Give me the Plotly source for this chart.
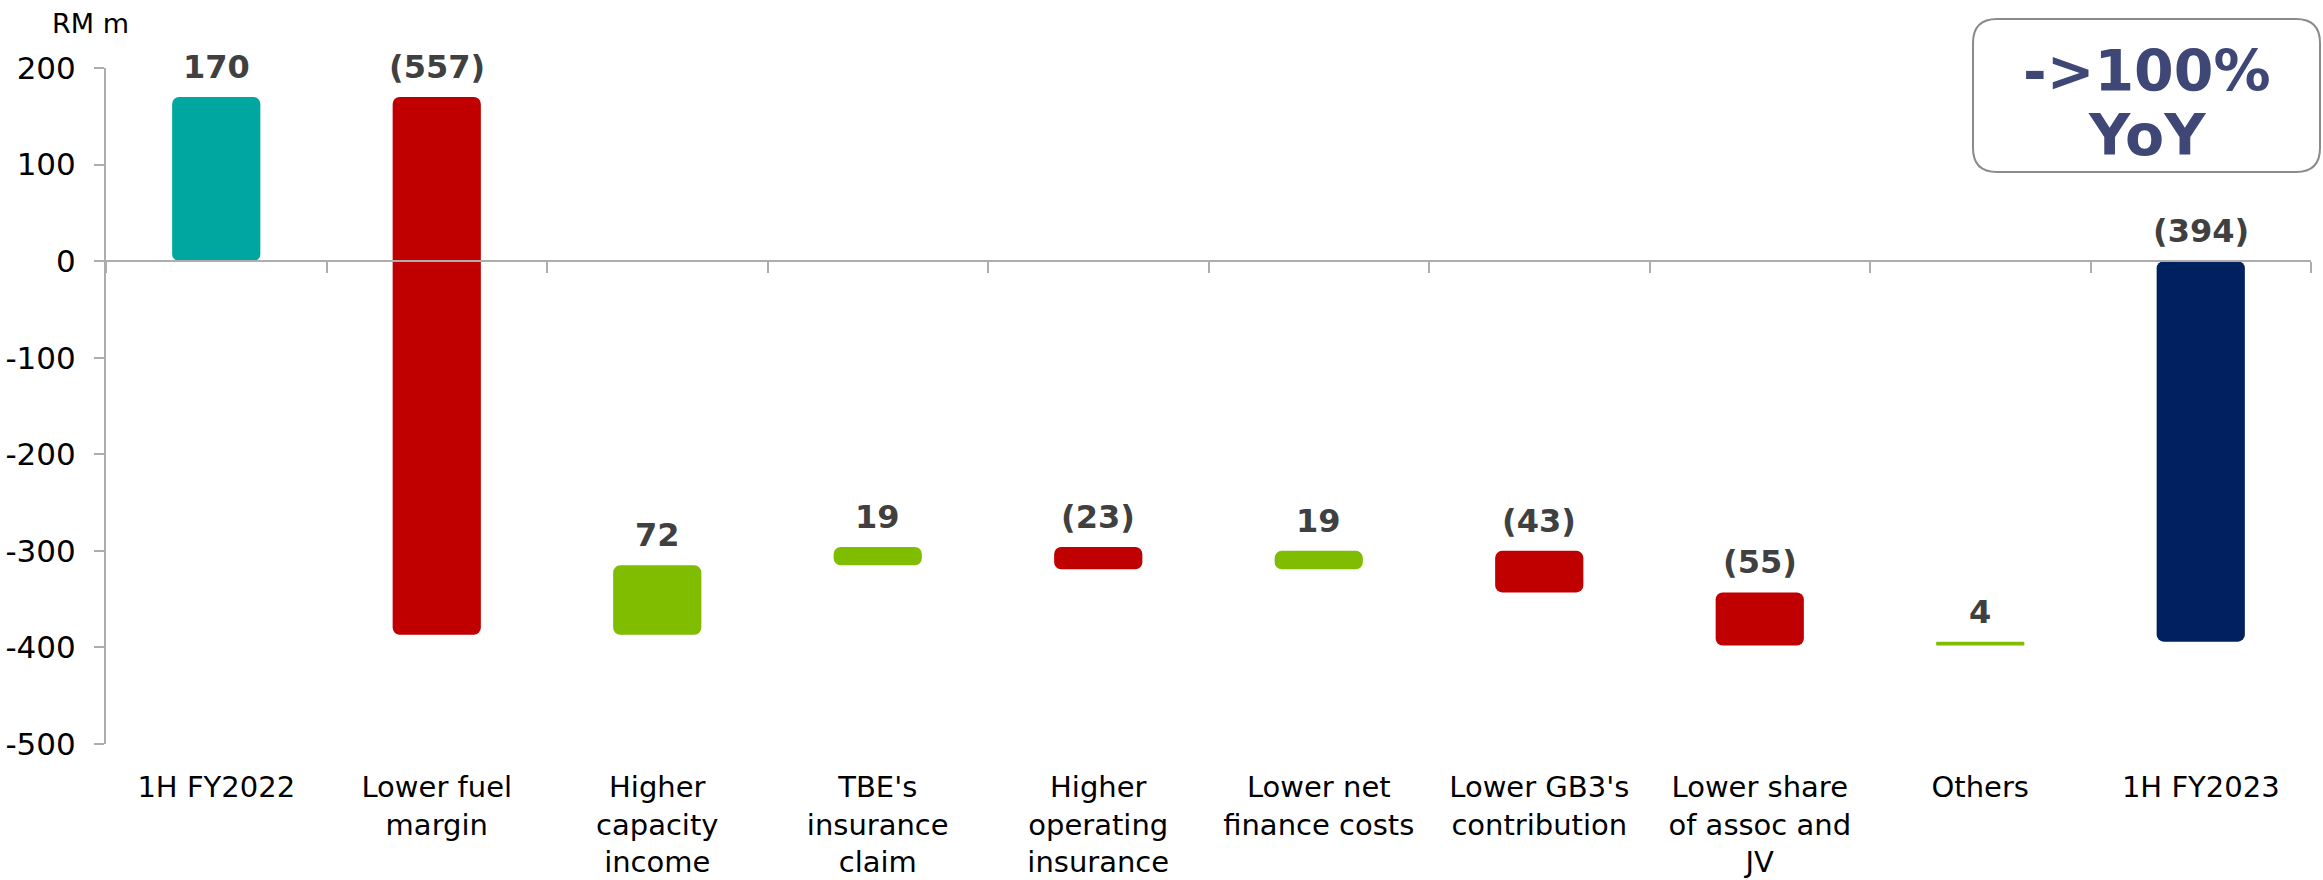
import plotly.graph_objects as go

# ---------------- data ----------------
categories = [
    "1H FY2022",
    "Lower fuel<br>margin",
    "Higher<br>capacity<br>income",
    "TBE's<br>insurance<br>claim",
    "Higher<br>operating<br>insurance",
    "Lower net<br>finance costs",
    "Lower GB3's<br>contribution",
    "Lower share<br>of assoc and<br>JV",
    "Others",
    "1H FY2023",
]
values = [170, -557, 72, 19, -23, 19, -43, -55, 4, -394]
measures = ["total", "relative", "relative", "relative", "relative",
            "relative", "relative", "relative", "relative", "total"]
value_labels = ["170", "(557)", "72", "19", "(23)", "19", "(43)", "(55)", "4", "(394)"]
y_ticks = [200, 100, 0, -100, -200, -300, -400, -500]
y_tick_text = ["200", "100", "0", "-100", "-200", "-300", "-400", "-500"]
unit_label = "RM m"
badge_lines = ["->100%", "YoY"]

# ---------------- styles ----------------
C_START = "#00A6A0"
C_END = "#002060"
C_UP = "#80BC00"
C_DOWN = "#C00000"
AXIS_C = "#ADADAD"
LABEL_C = "#404040"
FONT = "DejaVu Sans, Verdana, sans-serif"

W, H = 2323, 880
ML, MR, MT, MB = 106, 12, 68, 136
PW, PH = W - ML - MR, H - MT - MB

# waterfall geometry from the data
bases, heights, colors, tops = [], [], [], []
running = 0
for i, (v, m) in enumerate(zip(values, measures)):
    if m == "total":
        b, h = 0, v
        running = v
        c = C_START if i == 0 else C_END
    else:
        b, h = running, v
        running += v
        c = C_UP if v >= 0 else C_DOWN
    bases.append(b)
    heights.append(h)
    colors.append(c)
    tops.append(max(b, b + h))

idx = list(range(len(categories)))

fig = go.Figure()
fig.add_trace(go.Bar(
    x=idx, y=heights, base=bases,
    marker=dict(color=colors, line=dict(width=0)),
    width=0.4, showlegend=False, hoverinfo="skip",
))
# invisible trace for the zero-line axis
fig.add_trace(go.Scatter(
    x=idx, y=[0] * len(idx), xaxis="x2", mode="markers",
    marker=dict(opacity=0), showlegend=False, hoverinfo="skip",
))

annotations = []
for i, t in enumerate(tops):
    annotations.append(dict(
        x=i, y=t, xref="x", yref="y", text=value_labels[i], showarrow=False,
        yanchor="bottom", yshift=9,
        font=dict(family=FONT, size=32, color=LABEL_C, weight="bold"),
    ))

# page-pixel -> paper helpers
def px_x(px):
    return (px - ML) / PW

def px_y(py):
    return (MT + PH - py) / PH

annotations.append(dict(
    x=px_x(90), y=px_y(24), xref="paper", yref="paper", text=unit_label,
    showarrow=False, xanchor="center", yanchor="middle",
    font=dict(family=FONT, size=27, color="#000000"),
))
for line, ypx in zip(badge_lines, [71, 135]):
    annotations.append(dict(
        x=px_x(2147), y=px_y(ypx), xref="paper", yref="paper", text=line,
        showarrow=False, xanchor="center", yanchor="middle",
        font=dict(family=FONT, size=57, color="#3F4777", weight="bold"),
    ))

# rounded badge box (page pixels)
x0, x1, y0, y1, r = 1973, 2320, 19, 172, 24
def P(px, py):
    return f"{px_x(px):.6f},{px_y(py):.6f}"
path = (f"M {P(x0 + r, y0)} L {P(x1 - r, y0)} Q {P(x1, y0)} {P(x1, y0 + r)} "
        f"L {P(x1, y1 - r)} Q {P(x1, y1)} {P(x1 - r, y1)} "
        f"L {P(x0 + r, y1)} Q {P(x0, y1)} {P(x0, y1 - r)} "
        f"L {P(x0, y0 + r)} Q {P(x0, y0)} {P(x0 + r, y0)} Z")

fig.update_layout(
    width=W, height=H, autosize=False,
    margin=dict(l=ML, r=MR, t=MT, b=MB, autoexpand=False),
    plot_bgcolor="white", paper_bgcolor="white",
    barcornerradius=7,
    xaxis=dict(
        tickmode="array", tickvals=idx, ticktext=categories,
        range=[-0.5, len(idx) - 0.5], showgrid=False, zeroline=False,
        showline=False, ticks="", ticklabelstandoff=23, automargin=False,
        tickfont=dict(family=FONT, size=29, color="#000000"),
    ),
    xaxis2=dict(
        overlaying="x", anchor="free", position=500 / 700, side="bottom",
        range=[-0.5, len(idx) - 0.5], tickmode="array",
        tickvals=[i - 0.5 for i in range(len(idx) + 1)],
        showticklabels=False, showgrid=False, zeroline=False,
        showline=True, linecolor=AXIS_C, linewidth=2, automargin=False,
        ticks="outside", ticklen=11, tickwidth=2, tickcolor=AXIS_C,
    ),
    yaxis=dict(
        range=[-500, 200], tickmode="array", tickvals=y_ticks,
        ticktext=y_tick_text, automargin=False,
        showgrid=False, zeroline=False, showline=True,
        linecolor=AXIS_C, linewidth=2, ticks="outside", ticklen=10,
        tickwidth=2, tickcolor=AXIS_C, ticklabelstandoff=12,
        tickfont=dict(family=FONT, size=31, color="#000000"),
    ),
    annotations=annotations,
    shapes=[dict(type="path", path=path, xref="paper", yref="paper",
                 line=dict(color="#8A8A8A", width=2), fillcolor="white",
                 layer="above")],
)

fig.write_html("out.html", config={"displayModeBar": False},
               post_script="document.body.style.margin='0px';")
